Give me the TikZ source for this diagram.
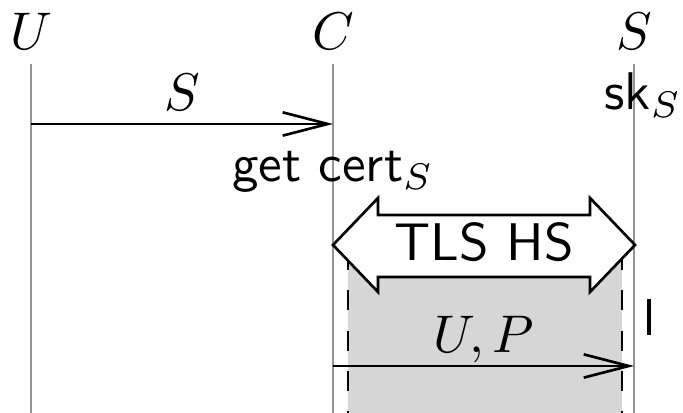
\documentclass[tikz,border=0pt]{standalone}
\usetikzlibrary{arrows.meta}
\tikzset{
  lifeline/.style={black!42, line width=0.5pt},
  msg/.style={-{Straight Barb[length=8.5pt, width=4.4pt]}, line width=0.5pt},
  msglabel/.style={midway, anchor=base, yshift=2.6pt},
  session/.style={dash pattern=on 3.8pt off 3.8pt, line width=0.55pt},
}

\begin{document}
\begin{tikzpicture}[x=0.1887pt, y=-0.1887pt]
  \clip (0,0) rectangle (683,413);
  \useasboundingbox (0,0) rectangle (683,413);

  % Parties and lifelines
  \foreach \name/\x in {U/31, C/333, S/634} {
    \node[anchor=base] (\name) at (\x,50) {$\name$};
    \coordinate (\name top) at (\x,64);
    \coordinate (\name bot) at (\x,413);
    \draw[lifeline] (\name top) -- (\name bot);
  }

  % Secure session box
  \fill[black!16] (348,250) rectangle (622,413);
  \draw[session] (348,250) -- (348,413);
  \draw[session] (622,250) -- (622,413);

  % TLS handshake (double block arrow)
  \draw[fill=white, line width=0.5pt]
    (333,245) -- (378,198) -- (378,215) -- (590,215) -- (590,198)
    -- (635,245) -- (590,292) -- (590,277) -- (378,277) -- (378,292)
    -- cycle;
  \node (hs) at (484,242) {\sffamily TLS HS};

  % Messages
  \coordinate (U1) at (31,124);
  \coordinate (C1) at (333,124);
  \coordinate (C2) at (333,366);
  \coordinate (S2) at (634,366);
  \draw[msg] (U1) -- (C1) node[msglabel] {$S$};
  \draw[msg] (C2) -- (S2) node[msglabel] {$U,P$};

  % Local notes
  \node[anchor=base] (cert) at (333,182) {\sffamily get cert$_S$};
  \node[anchor=base] (sk) at (643,110) {\sffamily sk$_S$};
  \draw[line width=0.6pt] (649,299) -- (649,335);

\end{tikzpicture}
\end{document}
